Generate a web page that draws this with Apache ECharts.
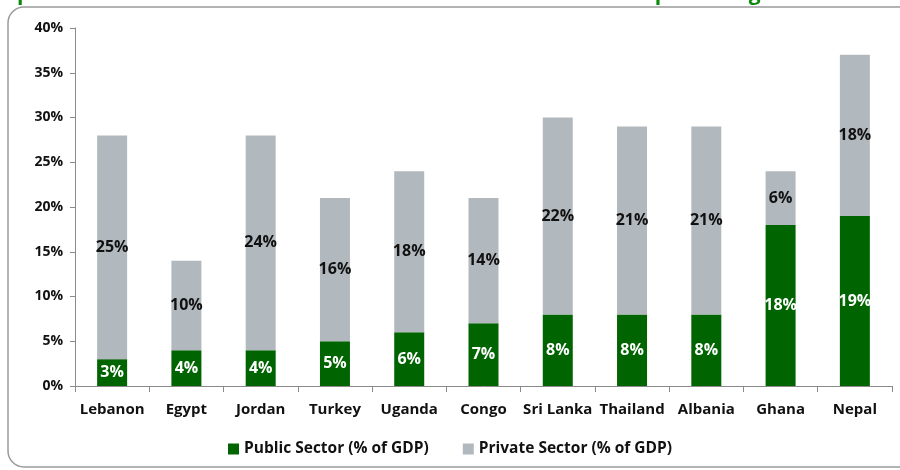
<!DOCTYPE html>
<html>
<head>
<meta charset="utf-8">
<script src="https://cdn.jsdelivr.net/npm/echarts@6/dist/echarts.min.js"></script>
<style>
  html, body { margin: 0; padding: 0; background: #ffffff; }
  #chart { width: 900px; height: 470px; }
</style>
</head>
<body>
<div id="chart"></div>
<script>
// Gross capital formation by sector, % of GDP
const countries = ['Lebanon', 'Egypt', 'Jordan', 'Turkey', 'Uganda', 'Congo', 'Sri Lanka', 'Thailand', 'Albania', 'Ghana', 'Nepal'];
const publicSector = [3, 4, 4, 5, 6, 7, 8, 8, 8, 18, 19];
const privateSector = [25, 10, 24, 16, 18, 14, 22, 21, 21, 6, 18];
const yTicks = [0, 5, 10, 15, 20, 25, 30, 35, 40];

const FONT = '"Open Sans", Lato, sans-serif';
const chart = echarts.init(document.getElementById('chart'), null, { renderer: 'canvas' });

chart.setOption({
  animation: false,
  backgroundColor: '#ffffff',
  title: {
    text: 'Capital formation in the Private sector and the Public sector as percentage of GDP',
    left: -14,
    top: -21,
    textStyle: { color: '#0a8a0a', fontFamily: FONT, fontWeight: 'bold', fontSize: 21 }
  },
  graphic: [{
    type: 'rect',
    shape: { x: 8, y: 7, width: 930, height: 460, r: 16 },
    style: { fill: 'none', stroke: '#9a9a9a', lineWidth: 1.5 },
    z: -1
  }],
  legend: {
    bottom: 8,
    left: 'center',
    itemWidth: 11,
    itemHeight: 11,
    itemGap: 34,
    icon: 'rect',
    textStyle: { fontFamily: FONT, fontWeight: 'bold', fontSize: 15.5, color: '#111' },
    data: ['Public Sector (% of GDP)', 'Private Sector (% of GDP)']
  },
  grid: { left: 75, right: 8, top: 28, bottom: 84, containLabel: false },
  xAxis: {
    type: 'category',
    data: countries,
    axisLine: { lineStyle: { color: '#8a8a8a', width: 1 } },
    axisTick: { show: true, length: 6, alignWithLabel: false, lineStyle: { color: '#8a8a8a' } },
    axisLabel: { fontFamily: FONT, fontWeight: 'bold', fontSize: 15, color: '#111', margin: 16, interval: 0 }
  },
  yAxis: {
    type: 'value',
    min: yTicks[0],
    max: yTicks[yTicks.length - 1],
    interval: 5,
    splitLine: { show: false },
    axisLine: { show: true, lineStyle: { color: '#8a8a8a', width: 1 } },
    axisTick: { show: true, length: 5, inside: false, lineStyle: { color: '#8a8a8a' } },
    axisLabel: { fontFamily: FONT, fontWeight: 'bold', fontSize: 14, color: '#111', margin: 12, formatter: v => v + '%' }
  },
  series: [
    {
      name: 'Public Sector (% of GDP)',
      type: 'bar',
      stack: 'total',
      data: publicSector,
      barWidth: 30,
      itemStyle: { color: '#006400' },
      label: {
        show: true,
        position: 'inside',
        formatter: p => p.value + '%',
        fontFamily: FONT, fontWeight: 'bold', fontSize: 16, color: '#ffffff'
      }
    },
    {
      name: 'Private Sector (% of GDP)',
      type: 'bar',
      stack: 'total',
      data: privateSector,
      barWidth: 30,
      itemStyle: { color: '#b2b9be' },
      label: {
        show: true,
        position: 'inside',
        formatter: p => p.value + '%',
        fontFamily: FONT, fontWeight: 'bold', fontSize: 16, color: '#111111'
      }
    }
  ]
});
</script>
</body>
</html>
